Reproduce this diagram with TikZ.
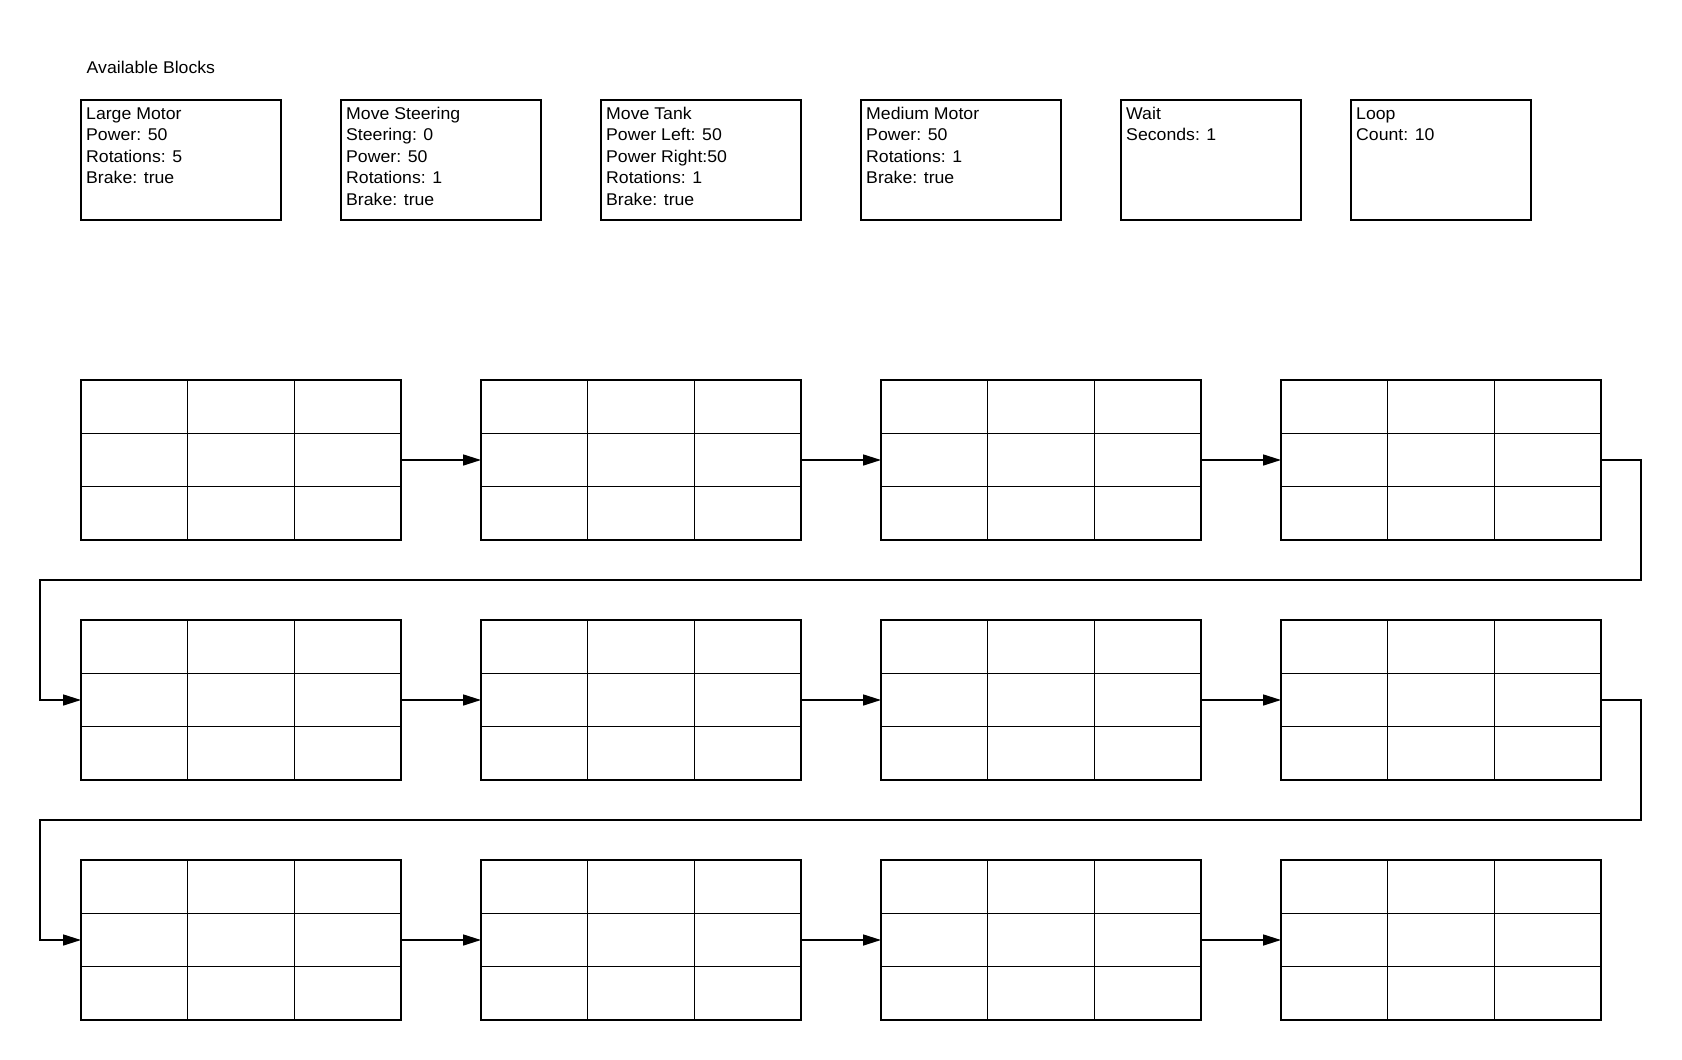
\documentclass[tikz,border=0pt]{standalone}
\usepackage{fontspec}
\setmainfont{Liberation Sans}[FakeStretch=1.04]
\usetikzlibrary{arrows.meta,calc}
\newcommand{\topstrut}{\rule{0pt}{14pt}}
\begin{document}
\begin{tikzpicture}[x=1pt,y=-1pt,
  blk/.style={draw, line width=1.6pt, minimum width=200pt, minimum height=120pt, inner sep=0pt, outer sep=0pt},
  txt/.style={anchor=north west, align=left, inner sep=0pt, font=\fontsize{17}{21.45}\selectfont},
  grid/.style={draw, line width=1.6pt, minimum width=320pt, minimum height=160pt, inner sep=0pt, outer sep=0pt},
  inner/.style={line width=1pt},
  conn/.style={line width=1.6pt, -{Triangle[length=18pt,width=11pt]}}]
\useasboundingbox (0,0) rectangle (1682,1060);
\fill[white] (0,0) rectangle (1682,1060);

\node[txt, anchor=base west] (title) at (86.5,73) {Available Blocks};

\node[blk] (b1) at (181,160) {};
\node[blk] (b2) at (441,160) {};
\node[blk] (b3) at (701,160) {};
\node[blk] (b4) at (961,160) {};
\node[blk, minimum width=180pt] (b5) at (1211,160) {};
\node[blk, minimum width=180pt] (b6) at (1441,160) {};

\node[txt] (t1) at ($(b1.north west)+(5,5)$) {\topstrut Large Motor\\Power: 50\\Rotations: 5\\Brake: true};
\node[txt] (t2) at ($(b2.north west)+(5,5)$) {\topstrut Move Steering\\Steering: 0\\Power: 50\\Rotations: 1\\Brake: true};
\node[txt] (t3) at ($(b3.north west)+(5,5)$) {\topstrut Move Tank\\Power Left: 50\\Power Right:50\\Rotations: 1\\Brake: true};
\node[txt] (t4) at ($(b4.north west)+(5,5)$) {\topstrut Medium Motor\\Power: 50\\Rotations: 1\\Brake: true};
\node[txt] (t5) at ($(b5.north west)+(5,5)$) {\topstrut Wait\\Seconds: 1};
\node[txt] (t6) at ($(b6.north west)+(5,5)$) {\topstrut Loop\\Count: 10};

% grids
\node[grid] (g1) at (241,460) {};
\node[grid] (g2) at (641,460) {};
\node[grid] (g3) at (1041,460) {};
\node[grid] (g4) at (1441,460) {};
\node[grid] (g5) at (241,700) {};
\node[grid] (g6) at (641,700) {};
\node[grid] (g7) at (1041,700) {};
\node[grid] (g8) at (1441,700) {};
\node[grid] (g9) at (241,940) {};
\node[grid] (g10) at (641,940) {};
\node[grid] (g11) at (1041,940) {};
\node[grid] (g12) at (1441,940) {};

\foreach \i in {1,...,12}{
  \draw[inner] ($(g\i.north west)!1/3!(g\i.north east)$) -- ($(g\i.south west)!1/3!(g\i.south east)$);
  \draw[inner] ($(g\i.north west)!2/3!(g\i.north east)$) -- ($(g\i.south west)!2/3!(g\i.south east)$);
  \draw[inner] ($(g\i.north west)!1/3!(g\i.south west)$) -- ($(g\i.north east)!1/3!(g\i.south east)$);
  \draw[inner] ($(g\i.north west)!2/3!(g\i.south west)$) -- ($(g\i.north east)!2/3!(g\i.south east)$);
}

% connectors
\draw[conn] (g1.east) -- (g2.west);
\draw[conn] (g2.east) -- (g3.west);
\draw[conn] (g3.east) -- (g4.west);
\draw[conn] (g5.east) -- (g6.west);
\draw[conn] (g6.east) -- (g7.west);
\draw[conn] (g7.east) -- (g8.west);
\draw[conn] (g9.east) -- (g10.west);
\draw[conn] (g10.east) -- (g11.west);
\draw[conn] (g11.east) -- (g12.west);

\coordinate (w1) at (40,580);
\coordinate (w2) at (40,820);
\draw[conn] (g4.east) -- ++(40,0) |- (w1) |- (g5.west);
\draw[conn] (g8.east) -- ++(40,0) |- (w2) |- (g9.west);
\end{tikzpicture}
\end{document}
